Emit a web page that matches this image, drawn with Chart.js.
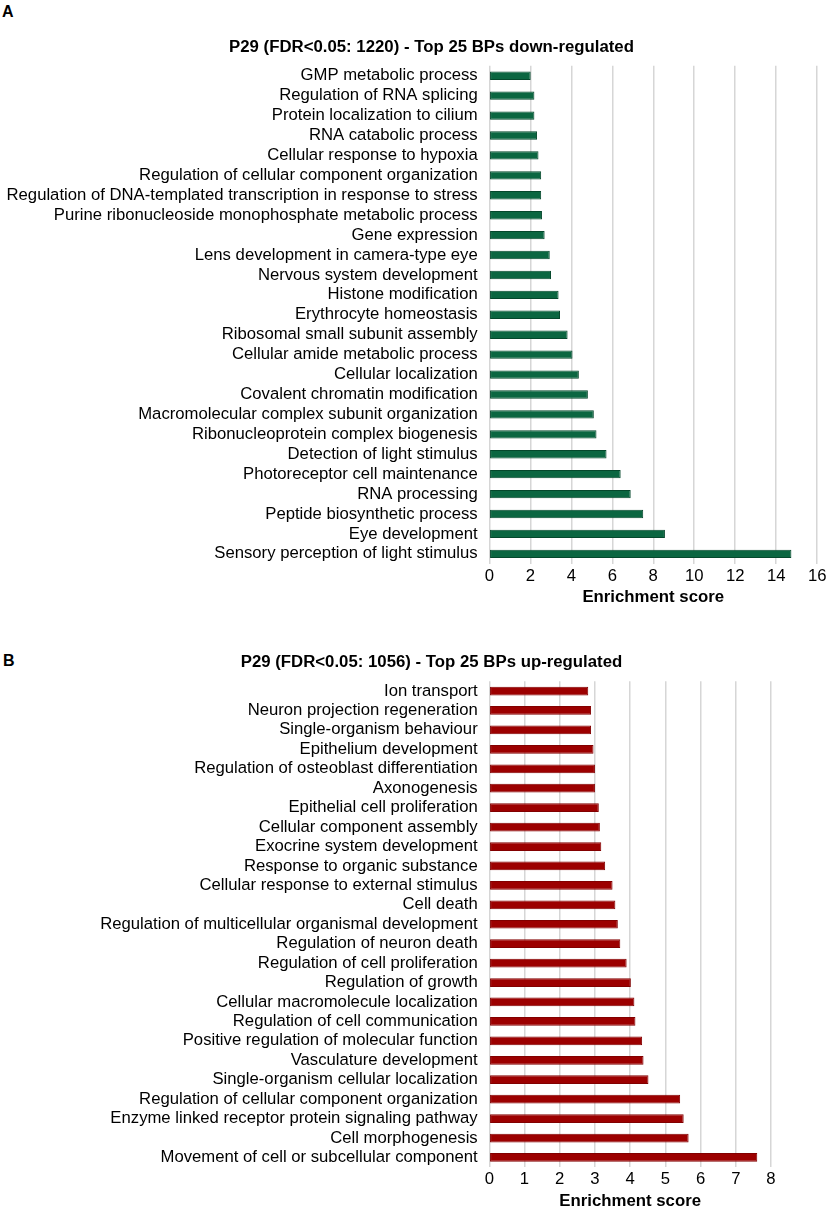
<!DOCTYPE html>
<html>
<head>
<meta charset="utf-8">
<title>P29 enrichment - top 25 BPs</title>
<script src="https://cdn.jsdelivr.net/npm/chart.js@4.4.1/dist/chart.umd.min.js"></script>
<style>
  html, body { margin: 0; padding: 0; background: #fff; overflow: hidden; }
  body { width: 829px; height: 1209px; position: relative; font-family: 'Liberation Sans', Arial, sans-serif; }
  .panel { position: absolute; font-weight: bold; font-size: 16px; color: #000; line-height: 1; }
  #wrapA { position: absolute; left: 0; top: 0; }
  #wrapB { position: absolute; left: 0; top: 614px; }
</style>
</head>
<body>
<div class="panel" style="left:2px; top:4px;">A</div>
<div class="panel" style="left:3px; top:653px;">B</div>
<div id="wrapA"><canvas id="chartA" width="829" height="611"></canvas></div>
<div id="wrapB"><canvas id="chartB" width="829" height="601"></canvas></div>

<script>
'use strict';

/* Panel A: down-regulated BPs */
const downLabels = [
  'GMP metabolic process',
  'Regulation of RNA splicing',
  'Protein localization to cilium',
  'RNA catabolic process',
  'Cellular response to hypoxia',
  'Regulation of cellular component organization',
  'Regulation of DNA-templated transcription in response to stress',
  'Purine ribonucleoside monophosphate metabolic process',
  'Gene expression',
  'Lens development in camera-type eye',
  'Nervous system development',
  'Histone modification',
  'Erythrocyte homeostasis',
  'Ribosomal small subunit assembly',
  'Cellular amide metabolic process',
  'Cellular localization',
  'Covalent chromatin modification',
  'Macromolecular complex subunit organization',
  'Ribonucleoprotein complex biogenesis',
  'Detection of light stimulus',
  'Photoreceptor cell maintenance',
  'RNA processing',
  'Peptide biosynthetic process',
  'Eye development',
  'Sensory perception of light stimulus'
];
const downScores = [
  2.02, 2.20, 2.20, 2.33, 2.40, 2.53, 2.53, 2.57, 2.70, 2.95, 3.01, 3.38, 3.45,
  3.82, 4.06, 4.37, 4.81, 5.10, 5.23, 5.72, 6.41, 6.90, 7.51, 8.57, 14.74
];

/* Panel B: up-regulated BPs */
const upLabels = [
  'Ion transport',
  'Neuron projection regeneration',
  'Single-organism behaviour',
  'Epithelium development',
  'Regulation of osteoblast differentiation',
  'Axonogenesis',
  'Epithelial cell proliferation',
  'Cellular component assembly',
  'Exocrine system development',
  'Response to organic substance',
  'Cellular response to external stimulus',
  'Cell death',
  'Regulation of multicellular organismal development',
  'Regulation of neuron death',
  'Regulation of cell proliferation',
  'Regulation of growth',
  'Cellular macromolecule localization',
  'Regulation of cell communication',
  'Positive regulation of molecular function',
  'Vasculature development',
  'Single-organism cellular localization',
  'Regulation of cellular component organization',
  'Enzyme linked receptor protein signaling pathway',
  'Cell morphogenesis',
  'Movement of cell or subcellular component'
];
const upScores = [
  2.81, 2.89, 2.89, 2.96, 3.00, 3.00, 3.11, 3.14, 3.18, 3.29, 3.50, 3.58, 3.65,
  3.72, 3.90, 4.02, 4.12, 4.15, 4.34, 4.38, 4.52, 5.42, 5.52, 5.66, 7.61
];

const FONT = "'Liberation Sans', Arial, sans-serif";

/* Title drawn at a fixed centre, independent of the axis layout */
const panelTitle = {
  id: 'panelTitle',
  afterDraw(chart, args, opts) {
    const { ctx } = chart;
    ctx.save();
    ctx.font = `bold 16.8px ${FONT}`;
    ctx.fillStyle = '#000';
    ctx.textAlign = 'center';
    ctx.textBaseline = 'middle';
    ctx.fillText(opts.text, opts.x, opts.y);
    ctx.restore();
  },
};

/* Build one horizontal bar panel */
function makePanel(canvasId, cfg) {
  const ctx = document.getElementById(canvasId).getContext('2d');
  return new Chart(ctx, {
    type: 'bar',
    plugins: [panelTitle],
    data: {
      labels: cfg.labels,
      datasets: [{
        data: cfg.values,
        backgroundColor: cfg.fill,
        borderColor: cfg.edge,
        borderWidth: 1,
        borderSkipped: false,
        barPercentage: cfg.barPct,
        categoryPercentage: 1,
      }],
    },
    options: {
      indexAxis: 'y',
      responsive: false,
      animation: false,
      layout: { padding: { left: 0, right: cfg.padRight, top: cfg.padTop, bottom: 0 } },
      plugins: {
        legend: { display: false },
        tooltip: { enabled: false },
        title: { display: false },
        panelTitle: { text: cfg.title, x: 431.5, y: cfg.titleY },
      },
      scales: {
        x: {
          min: 0,
          max: cfg.max,
          ticks: {
            stepSize: cfg.step,
            color: '#000',
            padding: 2.5,
            font: { family: FONT, size: 16.7 },
          },
          grid: { color: '#d6d6d6', lineWidth: 1.5, drawTicks: false },
          border: { display: false },
          title: {
            display: true,
            text: 'Enrichment score',
            color: '#000',
            font: { family: FONT, size: 16.8, weight: 'bold' },
            padding: { top: 0, bottom: 4 },
          },
          afterFit: (scale) => { scale.height = cfg.xHeight; },
        },
        y: {
          ticks: {
            color: '#000',
            padding: 11.6,
            autoSkip: false,
            font: { family: FONT, size: 16.7 },
          },
          grid: { display: false, drawTicks: false },
          border: { display: false },
          afterFit: (scale) => { scale.width = 489.3; },
        },
      },
    },
  });
}

makePanel('chartA', {
  labels: downLabels,
  values: downScores,
  fill: '#0b6641',
  edge: '#05482c',
  barPct: 0.42,
  title: 'P29 (FDR<0.05: 1220) - Top 25 BPs down-regulated',
  titleY: 47.3,
  padTop: 65.8,
  max: 16,
  step: 2,
  padRight: 10.3,
  xHeight: 47.2,
});

makePanel('chartB', {
  labels: upLabels,
  values: upScores,
  fill: '#9c0000',
  edge: '#820000',
  barPct: 0.45,
  title: 'P29 (FDR<0.05: 1056) - Top 25 BPs up-regulated',
  titleY: 48.7,
  padTop: 67.3,
  max: 8,
  step: 1,
  padRight: 58,
  xHeight: 47.8,
});
</script>
</body>
</html>
